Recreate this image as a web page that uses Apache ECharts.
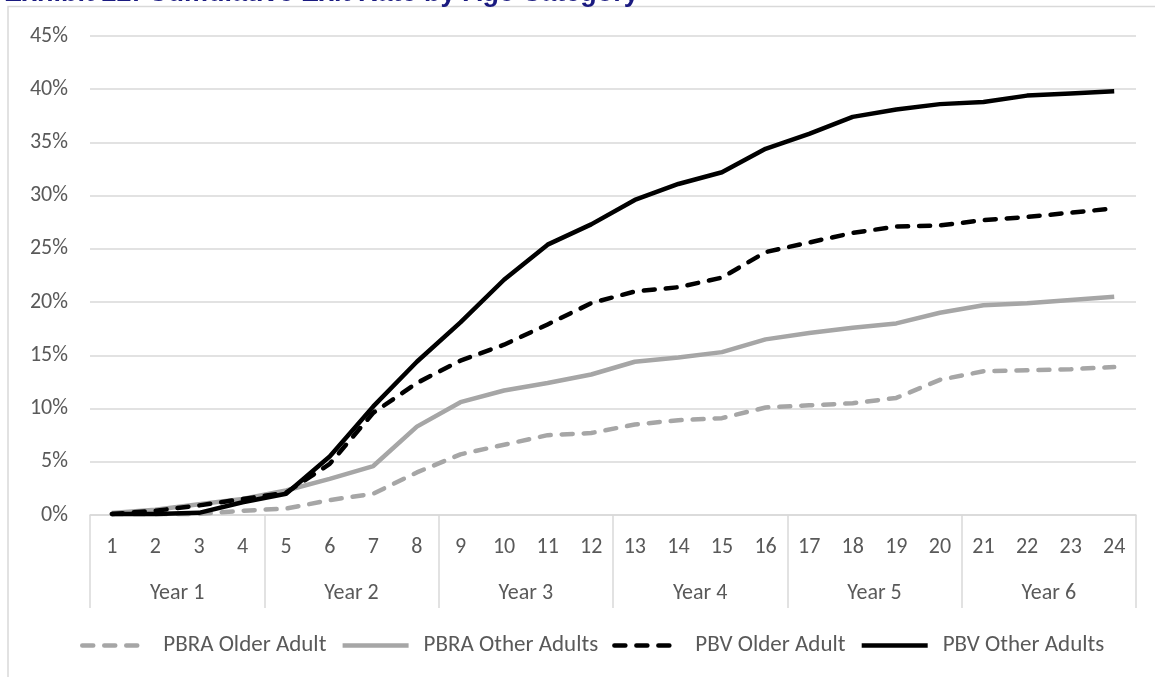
<!DOCTYPE html>
<html>
<head>
<meta charset="utf-8">
<script src="https://cdn.jsdelivr.net/npm/echarts@6/dist/echarts.min.js"></script>
<style>
html,body{margin:0;padding:0;background:#fff;}
#chart{width:1155px;height:677px;}
</style>
</head>
<body>
<div id="chart"></div>
<script>
// Category labels
var months = ['1','2','3','4','5','6','7','8','9','10','11','12','13','14','15','16','17','18','19','20','21','22','23','24'];
var years = ['Year 1','Year 2','Year 3','Year 4','Year 5','Year 6'];
var seriesNames = ['PBRA Older Adult','PBRA Other Adults','PBV Older Adult','PBV Other Adults'];
// Cumulative exit rate values (%)
var pbraOlder = [0.1,0.1,0.1,0.4,0.6,1.4,2.0,4.0,5.7,6.6,7.5,7.7,8.5,8.9,9.1,10.1,10.3,10.5,11.0,12.7,13.5,13.6,13.7,13.9];
var pbraOther = [0.2,0.5,1.0,1.5,2.3,3.4,4.6,8.3,10.6,11.7,12.4,13.2,14.4,14.8,15.3,16.5,17.1,17.6,18.0,19.0,19.7,19.9,20.2,20.5];
var pbvOlder  = [0.1,0.4,0.9,1.5,2.1,4.8,9.6,12.4,14.5,16.0,17.9,19.9,21.0,21.4,22.3,24.7,25.6,26.5,27.1,27.2,27.7,28.0,28.4,28.8];
var pbvOther  = [0.1,0.1,0.2,1.2,2.0,5.5,10.2,14.4,18.1,22.1,25.4,27.3,29.6,31.1,32.2,34.4,35.8,37.4,38.1,38.6,38.8,39.4,39.6,39.8];
// y-axis ticks
var yMin = 0, yMax = 45, yStep = 5;

var FONT = 'Carlito, Lato, sans-serif';
var FS = 22;
var LFS = 23;
var TXT = '#595959';
var GRID = '#d9d9d9';
var GREY = '#a6a6a6';
var BLACK = '#000000';

function mk(name, data, color, dashed) {
  return {
    name: name, type: 'line', data: data, xAxisIndex: 0,
    symbol: 'none', smooth: false,
    lineStyle: { color: color, width: 4.5, type: dashed ? [11, 11] : 'solid', cap: dashed ? 'round' : 'butt', join: 'round' },
    itemStyle: { color: color },
    emphasis: { disabled: true }
  };
}

var chart = echarts.init(document.getElementById('chart'), null, { renderer: 'canvas' });
chart.setOption({
  animation: false,
  backgroundColor: '#ffffff',
  graphic: [
    { type: 'rect', shape: { x: 8, y: 6.5, width: 1400, height: 800 }, style: { fill: 'none', stroke: GRID, lineWidth: 1.5 }, silent: true },
    { type: 'text', x: 4, y: 7.5, style: { text: 'Exhibit 22: Cumulative Exit Rate by Age Category', fill: '#1a1a80', font: 'bold 27px "Liberation Sans", Arial, sans-serif', textVerticalAlign: 'bottom' }, silent: true }
  ],
  grid: { left: 90, right: 19, top: 36, bottom: 162, containLabel: false },
  legend: {
    data: seriesNames, left: 80, top: 634, padding: 0,
    itemWidth: 66, itemHeight: 16, itemGap: 14,
    itemStyle: { opacity: 0 },
    lineStyle: { width: 4.5 },
    textStyle: { color: TXT, fontSize: LFS, fontFamily: FONT, padding: [0, 0, 0, 10] }
  },
  xAxis: [
    {
      type: 'category', data: months, boundaryGap: true, position: 'bottom',
      axisLine: { show: true, lineStyle: { color: GRID, width: 1.5 } },
      axisTick: { show: false },
      axisLabel: { color: TXT, fontSize: FS, fontFamily: FONT, margin: 21, interval: 0 },
      splitLine: { show: false }
    },
    {
      type: 'category', data: years, boundaryGap: true, position: 'bottom',
      axisLine: { show: false },
      axisTick: { show: true, length: 93, interval: 0, lineStyle: { color: GRID, width: 1.5 } },
      axisLabel: { color: TXT, fontSize: FS, fontFamily: FONT, margin: 67, interval: 0 },
      splitLine: { show: false }
    }
  ],
  yAxis: {
    type: 'value', min: yMin, max: yMax, interval: yStep,
    axisLine: { show: false }, axisTick: { show: false },
    axisLabel: { color: TXT, fontSize: FS, fontFamily: FONT, margin: 22, formatter: '{value}%' },
    splitLine: { show: true, lineStyle: { color: GRID, width: 1.5 } }
  },
  series: [
    mk(seriesNames[0], pbraOlder, GREY, true),
    mk(seriesNames[1], pbraOther, GREY, false),
    mk(seriesNames[2], pbvOlder, BLACK, true),
    mk(seriesNames[3], pbvOther, BLACK, false)
  ]
});
</script>
</body>
</html>
